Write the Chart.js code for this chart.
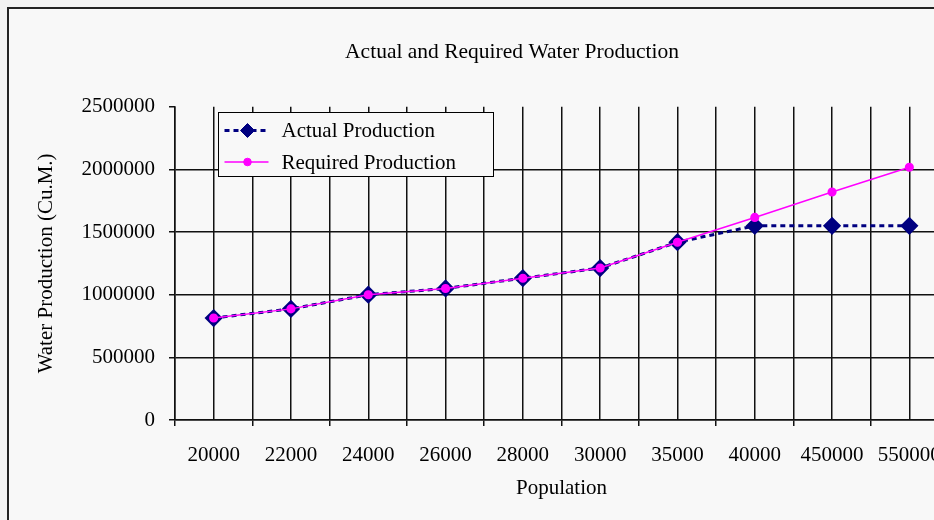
<!DOCTYPE html>
<html>
<head>
<meta charset="utf-8">
<script src="https://cdn.jsdelivr.net/npm/chart.js@4.4.1/dist/chart.umd.min.js"></script>
<style>
html, body { margin: 0; padding: 0; background: #f2f2f2; overflow: hidden; }
#wrap { width: 934px; height: 520px; overflow: hidden; position: relative; }
#wrap canvas { position: absolute; left: 0; top: 0; }
</style>
</head>
<body>
<div id="wrap"><canvas id="chart" width="1024" height="520" style="width:1024px;height:520px"></canvas></div>
<script>
// valeurs
const populations = ['20000', '22000', '24000', '26000', '28000', '30000', '35000', '40000', '450000', '550000'];
const actualProduction = [814000, 887000, 1000000, 1050000, 1132000, 1213000, 1419000, 1550000, 1550000, 1550000];
const requiredProduction = [814000, 887000, 1000000, 1050000, 1132000, 1213000, 1419000, 1617000, 1820000, 2018000];
const yMax = 2500000;
const yStep = 500000;

const FONT = 'Liberation Serif, Times New Roman, serif';
const GRID = '#111';

// fond gris clair + cadre
const frame = {
    id: 'frame',
    beforeDraw(chart) {
        const ctx = chart.ctx;
        ctx.save();
        ctx.fillStyle = '#f2f2f2';
        ctx.fillRect(0, 0, chart.width, chart.height);
        ctx.fillStyle = '#f8f8f8';
        ctx.fillRect(8, 8, chart.width - 16, chart.height);
        ctx.strokeStyle = '#222';
        ctx.lineWidth = 2;
        ctx.strokeRect(8, 8, chart.width - 16, chart.height + 20);
        ctx.restore();
    }
};

// légende encadrée dans la zone du graphique (style Excel)
const legendBox = {
    id: 'legendBox',
    afterDraw(chart) {
        const ctx = chart.ctx;
        const area = chart.chartArea;
        const x = Math.round(area.left + 43) + 0.5;
        const y = Math.round(area.top + 5) + 0.5;
        const w = 275, h = 64;
        ctx.save();
        ctx.fillStyle = '#f8f8f8';
        ctx.fillRect(x, y, w, h);
        ctx.strokeStyle = '#000';
        ctx.lineWidth = 1;
        ctx.strokeRect(x, y, w, h);

        const rows = [y + 18, y + 49.5];
        chart.data.datasets.forEach((ds, i) => {
            const ry = rows[i];
            ctx.beginPath();
            ctx.strokeStyle = ds.borderColor;
            ctx.lineWidth = ds.borderWidth;
            ctx.setLineDash(ds.borderDash || []);
            ctx.moveTo(x + 6, ry);
            ctx.lineTo(x + 50, ry);
            ctx.stroke();
            ctx.setLineDash([]);
            ctx.fillStyle = ds.pointBackgroundColor;
            ctx.strokeStyle = ds.pointBorderColor;
            ctx.lineWidth = 1;
            Chart.helpers.drawPoint(ctx, {
                pointStyle: ds.pointStyle,
                radius: ds.pointRadius,
                rotation: 0,
                borderWidth: 1
            }, x + 29, ry);

            ctx.fillStyle = '#000';
            ctx.font = '21px ' + FONT;
            ctx.textBaseline = 'middle';
            ctx.fillText(ds.label, x + 63, ry + 1);
        });
        ctx.restore();
    }
};

new Chart(document.getElementById('chart'), {
    type: 'line',
    data: {
        labels: populations,
        datasets: [{
            label: 'Actual Production',
            data: actualProduction,
            borderColor: '#000080',
            borderWidth: 3,
            borderDash: [5, 4],
            pointStyle: 'rectRot',
            pointRadius: 7,
            pointBackgroundColor: '#000080',
            pointBorderColor: '#000080',
            tension: 0,
            order: 2
        }, {
            label: 'Required Production',
            data: requiredProduction,
            borderColor: '#ff00ff',
            borderWidth: 1.5,
            pointStyle: 'circle',
            pointRadius: 3.8,
            pointBackgroundColor: '#ff00ff',
            pointBorderColor: '#ff00ff',
            tension: 0,
            order: 1
        }]
    },
    options: {
        responsive: false,
        animation: false,
        layout: { padding: 0 },
        plugins: {
            legend: { display: false },
            tooltip: { enabled: false },
            title: {
                display: true,
                text: 'Actual and Required Water Production',
                color: '#000',
                font: { family: FONT, size: 21.5, weight: 'normal' },
                padding: { top: 39, bottom: 42 }
            }
        },
        scales: {
            x: {
                type: 'category',
                offset: true,
                grid: { offset: true, color: GRID, tickColor: GRID, lineWidth: 1.5, tickLength: 6 },
                border: { color: GRID, width: 1.5 },
                ticks: { color: '#000', font: { family: FONT, size: 21 }, padding: 17, maxRotation: 0, autoSkip: false },
                title: {
                    display: true,
                    text: 'Population',
                    color: '#000',
                    font: { family: FONT, size: 21 },
                    padding: { top: 0, bottom: 19 }
                },
                afterFit(scale) { scale.height = 100; }
            },
            x2: {
                type: 'category',
                position: 'bottom',
                offset: true,
                grid: { offset: false, color: GRID, lineWidth: 1.5, drawTicks: false },
                border: { display: false },
                ticks: { display: false },
                afterFit(scale) { scale.height = 0; }
            },
            y: {
                min: 0,
                max: yMax,
                grid: {
                    color: ctx => ctx.tick && ctx.tick.value === yMax ? 'rgba(0,0,0,0)' : GRID,
                    tickColor: GRID,
                    lineWidth: 1.5,
                    tickLength: 6
                },
                border: { color: GRID, width: 1.5 },
                ticks: {
                    stepSize: yStep,
                    color: '#000',
                    font: { family: FONT, size: 21 },
                    padding: 14,
                    callback: v => String(v)
                },
                title: {
                    display: true,
                    text: 'Water Production (Cu.M.)',
                    color: '#000',
                    font: { family: FONT, size: 21 },
                    padding: { top: 34, bottom: 0 }
                },
                afterFit(scale) { scale.width = 175; }
            },
            // axe vide à droite : réserve la marge coupée de l'original
            yRight: {
                position: 'right',
                display: true,
                grid: { drawOnChartArea: false, drawTicks: false },
                border: { display: false },
                ticks: { display: false },
                afterFit(scale) { scale.width = 76; }
            }
        }
    },
    plugins: [frame, legendBox]
});
</script>
</body>
</html>
